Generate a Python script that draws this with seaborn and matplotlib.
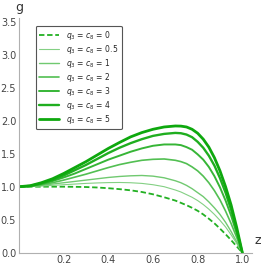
import numpy as np
import pandas as pd
import matplotlib
matplotlib.use("Agg")
import matplotlib.pyplot as plt
import seaborn as sns
from matplotlib.ticker import MultipleLocator

# values
z = [0.0, 0.05, 0.1, 0.15, 0.2, 0.25, 0.3, 0.35, 0.4, 0.45, 0.5, 0.55, 0.6, 0.65,
     0.7, 0.725, 0.75, 0.775, 0.8, 0.825, 0.85, 0.875, 0.9, 0.925, 0.95, 0.975, 1.0]
g_0 = [1.0, 1.0, 1.0, 1.0, 1.0, 0.998, 0.995, 0.988, 0.977, 0.963, 0.945, 0.92, 0.885, 0.84,
       0.79, 0.755, 0.72, 0.68, 0.635, 0.58, 0.515, 0.445, 0.365, 0.28, 0.19, 0.095, 0.0]
g_05 = [1.0, 1.003, 1.01, 1.02, 1.03, 1.04, 1.05, 1.057, 1.062, 1.064, 1.06, 1.05, 1.03, 1.0,
        0.95, 0.92, 0.88, 0.84, 0.79, 0.73, 0.66, 0.58, 0.49, 0.39, 0.27, 0.14, 0.0]
g_1 = [1.0, 1.005, 1.02, 1.04, 1.06, 1.08, 1.10, 1.12, 1.14, 1.155, 1.165, 1.17, 1.16, 1.135,
       1.09, 1.06, 1.02, 0.97, 0.91, 0.85, 0.77, 0.68, 0.58, 0.46, 0.32, 0.165, 0.0]
g_2 = [1.0, 1.008, 1.03, 1.06, 1.10, 1.145, 1.19, 1.24, 1.29, 1.335, 1.37, 1.40, 1.415, 1.42,
       1.40, 1.38, 1.35, 1.30, 1.24, 1.16, 1.06, 0.94, 0.80, 0.63, 0.44, 0.23, 0.0]
g_3 = [1.0, 1.01, 1.04, 1.085, 1.14, 1.20, 1.27, 1.34, 1.41, 1.47, 1.53, 1.58, 1.62, 1.64,
       1.64, 1.63, 1.60, 1.56, 1.49, 1.41, 1.30, 1.16, 0.99, 0.79, 0.56, 0.29, 0.0]
g_4 = [1.0, 1.012, 1.05, 1.10, 1.17, 1.25, 1.33, 1.42, 1.51, 1.59, 1.66, 1.72, 1.77, 1.80,
       1.815, 1.81, 1.79, 1.75, 1.68, 1.59, 1.47, 1.32, 1.13, 0.91, 0.65, 0.34, 0.0]
g_5 = [1.0, 1.015, 1.06, 1.12, 1.20, 1.29, 1.38, 1.48, 1.58, 1.67, 1.755, 1.82, 1.87, 1.905,
       1.92, 1.918, 1.905, 1.87, 1.81, 1.72, 1.60, 1.44, 1.24, 1.00, 0.72, 0.38, 0.0]

labels = ["0", "0.5", "1", "2", "3", "4", "5"]
curves = [g_0, g_05, g_1, g_2, g_3, g_4, g_5]
colors = ["#22b022", "#84d084", "#70c970", "#52bf52", "#36b536", "#1fae1f", "#0ea80e"]
widths = [1.3, 0.8, 1.0, 1.2, 1.4, 1.7, 2.0]

sns.set_style("white")
plt.rcParams["font.family"] = ["DejaVu Sans"]
plt.rcParams["mathtext.fontset"] = "dejavusans"

fig = plt.figure(figsize=(2.67, 2.67), dpi=100)
ax = fig.add_axes([19 / 267, 14.3 / 267, 232.7 / 267, 234.3 / 267])

for lab, vals, col, lw in zip(labels, curves, colors, widths):
    df = pd.DataFrame({"z": z, "g": vals})
    sns.lineplot(data=df, x="z", y="g", ax=ax, color=col, linewidth=lw,
                 label=r"$q_3$ = $c_8$ = " + lab)
    if lab == "0":
        ax.lines[-1].set_dashes([3, 1.5])

ax.set_xlim(0, 1.042)
ax.set_ylim(0, 3.55)
ax.xaxis.set_minor_locator(MultipleLocator(0.05))
ax.yaxis.set_minor_locator(MultipleLocator(0.1))
ax.set_xticks([0.2, 0.4, 0.6, 0.8, 1.0])
ax.set_xticklabels(["0.2", "0.4", "0.6", "0.8", "1.0"])
ax.set_yticks([0.0, 0.5, 1.0, 1.5, 2.0, 2.5, 3.0, 3.5])
ax.set_yticklabels(["0.0", "0.5", "1.0", "1.5", "2.0", "2.5", "3.0", "3.5"])

for side in ["top", "right"]:
    ax.spines[side].set_visible(False)
for side in ["left", "bottom"]:
    ax.spines[side].set_color("#b0b0b0")
    ax.spines[side].set_linewidth(0.8)
ax.tick_params(which="both", direction="in", color="#b0b0b0", labelcolor="#444444",
               labelsize=7, pad=2)
ax.tick_params(which="major", length=3.5, width=0.7)
ax.tick_params(which="minor", length=2, width=0.5)

ax.set_xlabel("")
ax.set_ylabel("")
fig.text(258 / 267, 1 - 240 / 267, "z", ha="center", va="center", fontsize=9, color="#333333")
fig.text(19 / 267, 1 - 7 / 267, "g", ha="center", va="center", fontsize=9, color="#333333")

leg = ax.legend(loc="upper left", bbox_to_anchor=(0.055, 0.985), fontsize=5.5,
                frameon=True, fancybox=True, framealpha=1, handlelength=2.6,
                labelspacing=0.12, borderpad=0.45, handletextpad=0.9)
leg.get_frame().set_edgecolor("#555555")
leg.get_frame().set_linewidth(0.8)

fig.savefig("out.png", dpi=100)
